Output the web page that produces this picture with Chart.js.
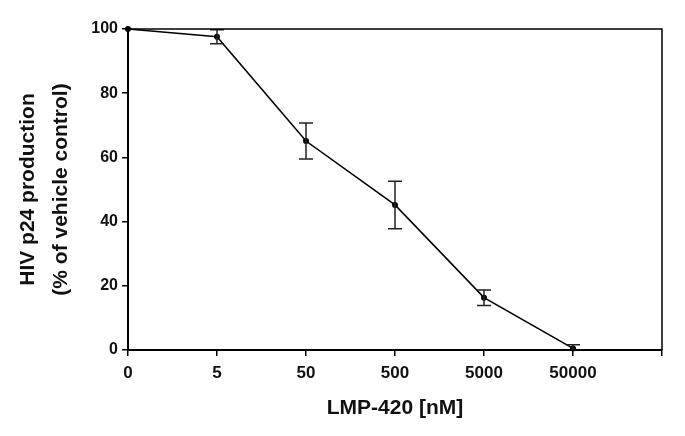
<!DOCTYPE html>
<html>
<head>
<meta charset="utf-8">
<script src="https://cdn.jsdelivr.net/npm/chart.js@4/dist/chart.umd.min.js"></script>
<style>
  html, body { margin: 0; padding: 0; background: #fff; }
  #wrap { width: 685px; height: 436px; }
</style>
</head>
<body>
<div id="wrap"><canvas id="chart" width="685" height="436"></canvas></div>
<script>
// Konzentrationen (letzte Kategorie ist leer, Achse geht bis dahin)
const xLabels = ['0', '5', '50', '500', '5000', '50000', '']
// p24 in % der Vehikelkontrolle
const p24Values = [100, 97.6, 65.1, 45.2, 16.3, 0.5]
// Fehlerbalken (+/-)
const p24Errors = [0, 2.2, 5.6, 7.4, 2.4, 1.1]
const yTicks = [0, 20, 40, 60, 80, 100]

const fontFamily = "'Liberation Sans', Arial, sans-serif"

// Fehlerbalken über die Skalen zeichnen
const errorBars = {
  id: 'errorBars',
  afterDatasetsDraw(chart) {
    const { ctx, chartArea, scales: { x, y } } = chart
    ctx.save()
    ctx.beginPath()
    ctx.rect(chartArea.left, chartArea.top - 2, chartArea.width, chartArea.height + 2)
    ctx.clip()
    ctx.strokeStyle = '#222'
    ctx.lineWidth = 1.5
    p24Values.forEach((v, i) => {
      const err = p24Errors[i]
      if (!err) return
      const px = x.getPixelForValue(i)
      const top = y.getPixelForValue(v + err)
      const bottom = y.getPixelForValue(v - err)
      ctx.beginPath()
      ctx.moveTo(px, top); ctx.lineTo(px, bottom)
      ctx.moveTo(px - 7, top); ctx.lineTo(px + 7, top)
      ctx.moveTo(px - 7, bottom); ctx.lineTo(px + 7, bottom)
      ctx.stroke()
    })
    ctx.restore()
  }
}

// Rahmen oben und rechts
const frame = {
  id: 'frame',
  afterDraw(chart) {
    const { ctx, chartArea } = chart
    ctx.save()
    ctx.strokeStyle = '#000'
    ctx.lineWidth = 1.5
    ctx.beginPath()
    ctx.moveTo(chartArea.left, chartArea.top)
    ctx.lineTo(chartArea.right, chartArea.top)
    ctx.lineTo(chartArea.right, chartArea.bottom)
    ctx.stroke()
    ctx.restore()
  }
}

new Chart(document.getElementById('chart'), {
  type: 'line',
  data: {
    labels: xLabels,
    datasets: [{
      data: p24Values,
      borderColor: '#000',
      borderWidth: 1.6,
      backgroundColor: '#000',
      pointRadius: 3,
      pointBorderWidth: 0,
      tension: 0,
      clip: false
    }]
  },
  options: {
    responsive: false,
    animation: false,
    layout: { padding: { left: 0, right: 23, top: 29, bottom: 0 } },
    plugins: { legend: { display: false }, tooltip: { enabled: false } },
    scales: {
      x: {
        type: 'category',
        offset: false,
        grid: { display: true, drawOnChartArea: false, color: '#000', tickLength: 6, lineWidth: 1.5 },
        border: { display: true, color: '#000', width: 2 },
        ticks: {
          color: '#111', padding: 7, maxRotation: 0, autoSkip: false,
          font: { family: fontFamily, size: 17, weight: 'bold' }
        },
        title: {
          display: true, text: 'LMP-420 [nM]', color: '#111',
          font: { family: fontFamily, size: 21, weight: 'bold', lineHeight: 1.2 },
          padding: { top: 0, bottom: 15 }
        },
        afterFit(scale) { scale.height = 86 }
      },
      y: {
        min: 0,
        max: 100,
        afterBuildTicks(scale) { scale.ticks = yTicks.map(v => ({ value: v })) },
        grid: { display: true, drawOnChartArea: false, color: '#000', tickLength: 6, lineWidth: 1.5 },
        border: { display: true, color: '#000', width: 2 },
        ticks: {
          color: '#111', padding: 4,
          font: { family: fontFamily, size: 16, weight: 'bold' }
        },
        title: {
          display: true, text: ['HIV p24 production', '(% of vehicle control)'], color: '#111',
          font: { family: fontFamily, size: 21, weight: 'bold', lineHeight: 1.55 },
          padding: { top: 12, bottom: 0 }
        },
        afterFit(scale) { scale.width = 128 }
      }
    }
  },
  plugins: [errorBars, frame]
})
</script>
</body>
</html>
